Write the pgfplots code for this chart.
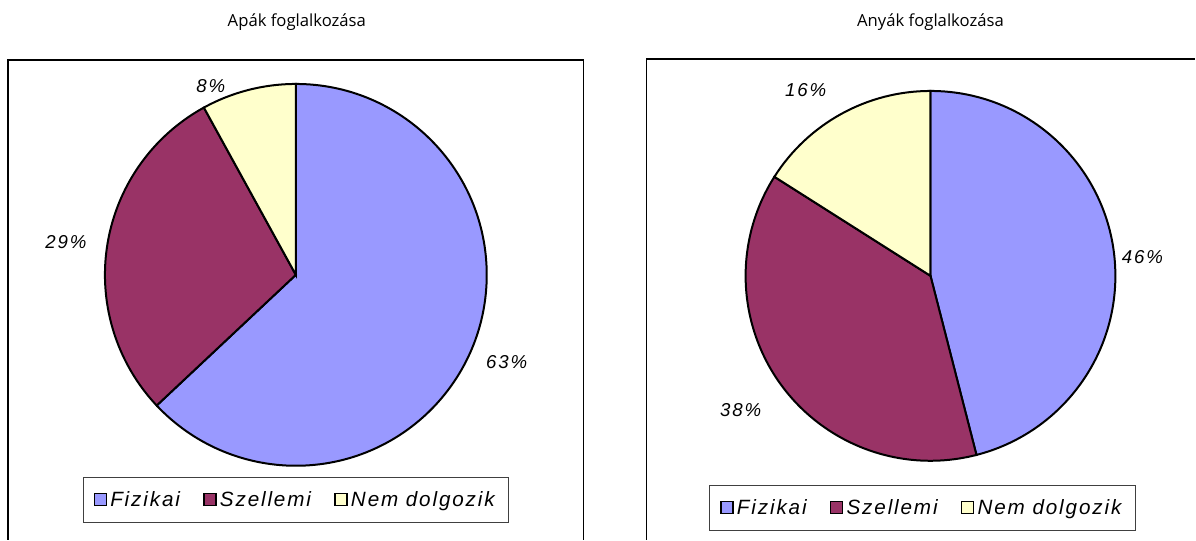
\documentclass[border=0pt]{standalone}
\usepackage{pgfplots}
\usepackage{pgfplotstable}
\pgfplotsset{compat=1.18}
\usepackage{fontspec}
\setmainfont{Liberation Sans}
\newfontfamily\titlefont{Open Sans}
\newfontfamily\labfont[LetterSpace=10]{Liberation Sans}
\newfontfamily\legfont[LetterSpace=9]{Liberation Sans}

\definecolor{pblue}{HTML}{9999FF}
\definecolor{pmaroon}{HTML}{993366}
\definecolor{pyellow}{HTML}{FFFFCC}

\pgfplotstableread{
cat val
Fizikai 63
Szellemi 29
Nem 8
}\apak
\pgfplotstableread{
cat val
Fizikai 46
Szellemi 38
Nem 16
}\anyak
\pgfplotstablegetelem{0}{val}\of\apak \edef\pA{\pgfplotsretval}%
\pgfplotstablegetelem{1}{val}\of\apak \edef\pB{\pgfplotsretval}%
\pgfplotstablegetelem{0}{val}\of\anyak \edef\qA{\pgfplotsretval}%
\pgfplotstablegetelem{1}{val}\of\anyak \edef\qB{\pgfplotsretval}%
\pgfmathsetmacro\pAe{90-3.6*\pA}%
\pgfmathsetmacro\pBe{90-3.6*(\pA+\pB)}%
\pgfmathsetmacro\qAe{90-3.6*\qA}%
\pgfmathsetmacro\qBe{90-3.6*(\qA+\qB)}%

\newcommand{\labstyle}{\labfont\itshape\fontsize{14}{16}\selectfont}
\newcommand{\legstyle}{\legfont\itshape\fontsize{15.5}{17}\selectfont}
\newcommand{\tstyle}{\titlefont\fontsize{12.5}{14}\selectfont}

\pgfplotsset{
  piebox/.style={
    hide axis,
    scale only axis,
    width=897pt, height=405pt,
    xmin=0, xmax=1196, ymin=0, ymax=540,
    at={(0pt,0pt)}, anchor=south west,
    clip=false,
    legend columns=3,
    legend style={draw=black!75, line width=0.6pt, font=\legstyle,
      inner xsep=8pt, inner ysep=8.5pt,
      nodes={inner xsep=2.5pt},
      /tikz/every even column/.append style={column sep=15pt}},
    legend image code/.code={\draw[#1, draw=black, line width=1pt] (0pt,-4.5pt) rectangle (9pt,4.5pt);},
  },
}

\begin{document}
\begin{tikzpicture}
\path (0pt,0pt) rectangle (897pt,405pt);
% left chart
\begin{axis}[piebox, legend style={at={(axis cs:296,40)}, anchor=center}]
  \addlegendimage{fill=pblue}
  \addlegendentry{Fizikai}
  \addlegendimage{fill=pmaroon}
  \addlegendentry{Szellemi}
  \addlegendimage{fill=pyellow}
  \addlegendentry{Nem dolgozik}
  \draw[black, line width=1pt] (axis cs:8,0) -- (axis cs:8,480) -- (axis cs:584,480) -- (axis cs:584,0);
  \filldraw[fill=pblue, draw=black, line width=1.5pt] (axis cs:296,265) -- (axis cs:296,456)
     arc[start angle=90, end angle=\pAe, radius=143.25pt] -- cycle;
  \filldraw[fill=pmaroon, draw=black, line width=1.5pt] (axis cs:296,265) -- (axis cs:{296+191*cos(\pAe)},{265+191*sin(\pAe)})
     arc[start angle=\pAe, end angle=\pBe, radius=143.25pt] -- cycle;
  \filldraw[fill=pyellow, draw=black, line width=1.5pt] (axis cs:296,265) -- (axis cs:{296+191*cos(\pBe)},{265+191*sin(\pBe)})
     arc[start angle=\pBe, end angle=-270, radius=143.25pt] -- cycle;
  \node[font=\labstyle] at (axis cs:507,178) {63\%};
  \node[font=\labstyle] at (axis cs:66,298) {29\%};
  \node[font=\labstyle] at (axis cs:211,454) {8\%};
  \node[font=\tstyle] at (axis cs:297,518) {Apák foglalkozása};
\end{axis}
% right chart
\begin{axis}[piebox, legend style={at={(axis cs:923,32)}, anchor=center}]
  \addlegendimage{fill=pblue}
  \addlegendentry{Fizikai}
  \addlegendimage{fill=pmaroon}
  \addlegendentry{Szellemi}
  \addlegendimage{fill=pyellow}
  \addlegendentry{Nem dolgozik}
  \draw[black, line width=1pt] (axis cs:647,0) -- (axis cs:647,481) -- (axis cs:1196,481);
  \filldraw[fill=pblue, draw=black, line width=1.5pt] (axis cs:931,264) -- (axis cs:931,449)
     arc[start angle=90, end angle=\qAe, radius=138.75pt] -- cycle;
  \filldraw[fill=pmaroon, draw=black, line width=1.5pt] (axis cs:931,264) -- (axis cs:{931+185*cos(\qAe)},{264+185*sin(\qAe)})
     arc[start angle=\qAe, end angle=\qBe, radius=138.75pt] -- cycle;
  \filldraw[fill=pyellow, draw=black, line width=1.5pt] (axis cs:931,264) -- (axis cs:{931+185*cos(\qBe)},{264+185*sin(\qBe)})
     arc[start angle=\qBe, end angle=-270, radius=138.75pt] -- cycle;
  \node[font=\labstyle] at (axis cs:1143,283) {46\%};
  \node[font=\labstyle] at (axis cs:741,130) {38\%};
  \node[font=\labstyle] at (axis cs:806,450) {16\%};
  \node[font=\tstyle] at (axis cs:931,518) {Anyák foglalkozása};
\end{axis}
\end{tikzpicture}
\end{document}
